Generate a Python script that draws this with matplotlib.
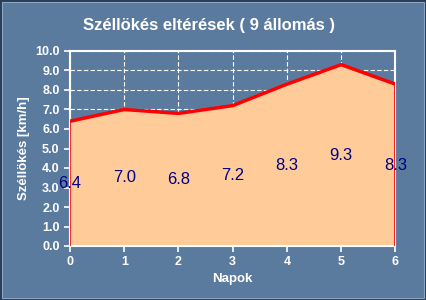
import matplotlib
matplotlib.use("Agg")
import matplotlib.pyplot as plt
from matplotlib.patches import Rectangle

# values
napok = [0, 1, 2, 3, 4, 5, 6]
szellokes = [6.4, 7.0, 6.8, 7.2, 8.3, 9.3, 8.3]
yticks = [0, 1, 2, 3, 4, 5, 6, 7, 8, 9, 10]

bg = "#5b7b9e"
plt.rcParams['font.family'] = ['Liberation Sans', 'DejaVu Sans']

fig = plt.figure(figsize=(4.27, 3.0), dpi=100, facecolor=bg)
ax = fig.add_axes([0.164, 0.18, 0.762, 0.65])
ax.set_facecolor(bg)

# 3d-ish border around the figure
fig.patches.append(Rectangle((0.002, 0.003), 0.995, 0.994, transform=fig.transFigure,
                             fill=False, edgecolor="#2a3d55", linewidth=1.5))
fig.patches.append(Rectangle((0.004, 0.008), 0.988, 0.986, transform=fig.transFigure,
                             fill=False, edgecolor="#8aa6c4", linewidth=0.8))

ax.fill_between(napok, 0, szellokes, color="#ffcc99", zorder=2)
ax.plot(napok, szellokes, color="red", lw=2.5, zorder=3, solid_capstyle="butt")
ax.plot([napok[0], napok[0]], [0, szellokes[0]], color="red", lw=1.2, zorder=3)
ax.plot([napok[-1], napok[-1]], [0, szellokes[-1]], color="red", lw=2, zorder=3)

for x, v in zip(napok, szellokes):
    ax.text(x, v / 2, "%.1f" % v, color="#000080", fontsize=12,
            ha="center", va="center", zorder=4)

ax.set_xlim(0, 6)
ax.set_ylim(0, 10)
ax.set_xticks(napok)
ax.set_yticks(yticks)
ax.set_yticklabels(["%.1f" % t for t in yticks])
ax.grid(True, color="white", linestyle=(0, (4, 2)), linewidth=0.8, zorder=1)

for s in ax.spines.values():
    s.set_color("white")
    s.set_linewidth(1.5)
ax.tick_params(colors="white", direction="out", length=4, width=1.2, labelsize=9)
for lab in ax.get_xticklabels() + ax.get_yticklabels():
    lab.set_fontweight("bold")

ax.set_xlabel("Napok", color="white", fontsize=9.5, fontweight="bold", labelpad=3)
ax.set_ylabel("Széllökés [km/h]", color="white", fontsize=9.5, fontweight="bold", labelpad=4)
fig.text(0.49, 0.915, "Széllökés eltérések ( 9 állomás )", color="white",
         fontsize=12, fontweight="bold", ha="center", va="center")

fig.savefig("out.png", dpi=100, facecolor=bg)
